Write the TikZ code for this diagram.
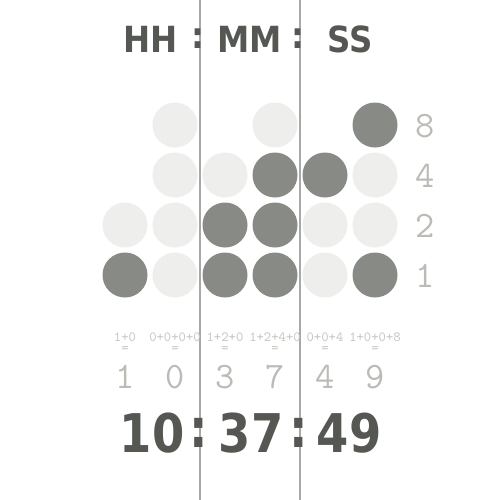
\documentclass[tikz,border=0pt]{standalone}
\usepackage{fontspec}
\newfontfamily\headfont[FakeStretch=0.9]{DejaVu Sans}
\newfontfamily\bigfont[FakeStretch=0.87]{DejaVu Sans}
\definecolor{dark}{HTML}{888A85}
\definecolor{lite}{HTML}{EEEEEC}
\definecolor{txt}{HTML}{555753}
\definecolor{gtxt}{HTML}{BABDB6}
\definecolor{ftxt}{HTML}{C4C6C0}
\definecolor{sep}{HTML}{A8A8A8}
\begin{document}
\begin{tikzpicture}[x=0.75pt,y=-0.75pt,
  bit/.style={circle,minimum size=33.75pt,inner sep=0pt},
  on/.style={bit,fill=dark},
  off/.style={bit,fill=lite},
  head/.style={font=\headfont\bfseries\fontsize{27}{27}\selectfont,text=txt,inner sep=0pt},
  big/.style={font=\bigfont\bfseries\fontsize{40}{40}\selectfont,text=txt,inner sep=0pt},
  wt/.style={font=\ttfamily\fontsize{28}{28}\selectfont,text=gtxt,inner sep=0pt},
  frm/.style={font=\ttfamily\fontsize{10.5}{10.5}\selectfont,text=ftxt,inner sep=0pt},
  sepline/.style={draw=sep,line width=1.1pt}]
\useasboundingbox[fill=white] (0,0) rectangle (500,500);
% separators
\coordinate (l1t) at (200,0); \coordinate (l1b) at (200,500);
\coordinate (l2t) at (300,0); \coordinate (l2b) at (300,500);
\draw[sepline] (l1t) -- (l1b);
\draw[sepline] (l2t) -- (l2b);
% headings
\node[head] (hh) at (150.5,39) {HH};
\node[head] (c1) at (198,39) {:};
\node[head] (mm) at (250,39) {MM};
\node[head] (c2) at (298,39) {:};
\node[head] (ss) at (350.5,39) {SS};
% bits: hours tens
\node[off] (a2) at (125,225) {};
\node[on]  (a1) at (125,275) {};
% hours ones
\node[off] (b8) at (175,125) {};
\node[off] (b4) at (175,175) {};
\node[off] (b2) at (175,225) {};
\node[off] (b1) at (175,275) {};
% minutes tens
\node[off] (c4) at (225,175) {};
\node[on]  (cc2) at (225,225) {};
\node[on]  (cc1) at (225,275) {};
% minutes ones
\node[off] (d8) at (275,125) {};
\node[on]  (d4) at (275,175) {};
\node[on]  (d2) at (275,225) {};
\node[on]  (d1) at (275,275) {};
% seconds tens
\node[on]  (e4) at (325,175) {};
\node[off] (e2) at (325,225) {};
\node[off] (e1) at (325,275) {};
% seconds ones
\node[on]  (f8) at (375,125) {};
\node[off] (f4) at (375,175) {};
\node[off] (f2) at (375,225) {};
\node[on]  (f1) at (375,275) {};
% weights
\node[wt] (w8) at (425,126) {8};
\node[wt] (w4) at (425,176) {4};
\node[wt] (w2) at (425,226) {2};
\node[wt] (w1) at (425,276) {1};
% formulas
\node[frm] (fa) at (125,337) {1+0};
\node[frm] (fb) at (175,337) {0+0+0+0};
\node[frm] (fc) at (225,337) {1+2+0};
\node[frm] (fd) at (275,337) {1+2+4+0};
\node[frm] (fe) at (325,337) {0+0+4};
\node[frm] (ff) at (375,337) {1+0+0+8};
\foreach \x/\n in {125/qa,175/qb,225/qc,275/qd,325/qe,375/qf}
  \node[frm] (\n) at (\x,349.5) {=};
% digits
\node[wt] (da) at (125,377) {1};
\node[wt] (db) at (175,377) {0};
\node[wt] (dc) at (225,377) {3};
\node[wt] (dd) at (275,377) {7};
\node[wt] (de) at (325,377) {4};
\node[wt] (df) at (375,377) {9};
% big time
\node[big] (th) at (152,433) {10};
\node[big] (k1) at (199,433) {:};
\node[big] (tm) at (251,433) {37};
\node[big] (k2) at (299,433) {:};
\node[big] (ts) at (349,433) {49};
\end{tikzpicture}
\end{document}
